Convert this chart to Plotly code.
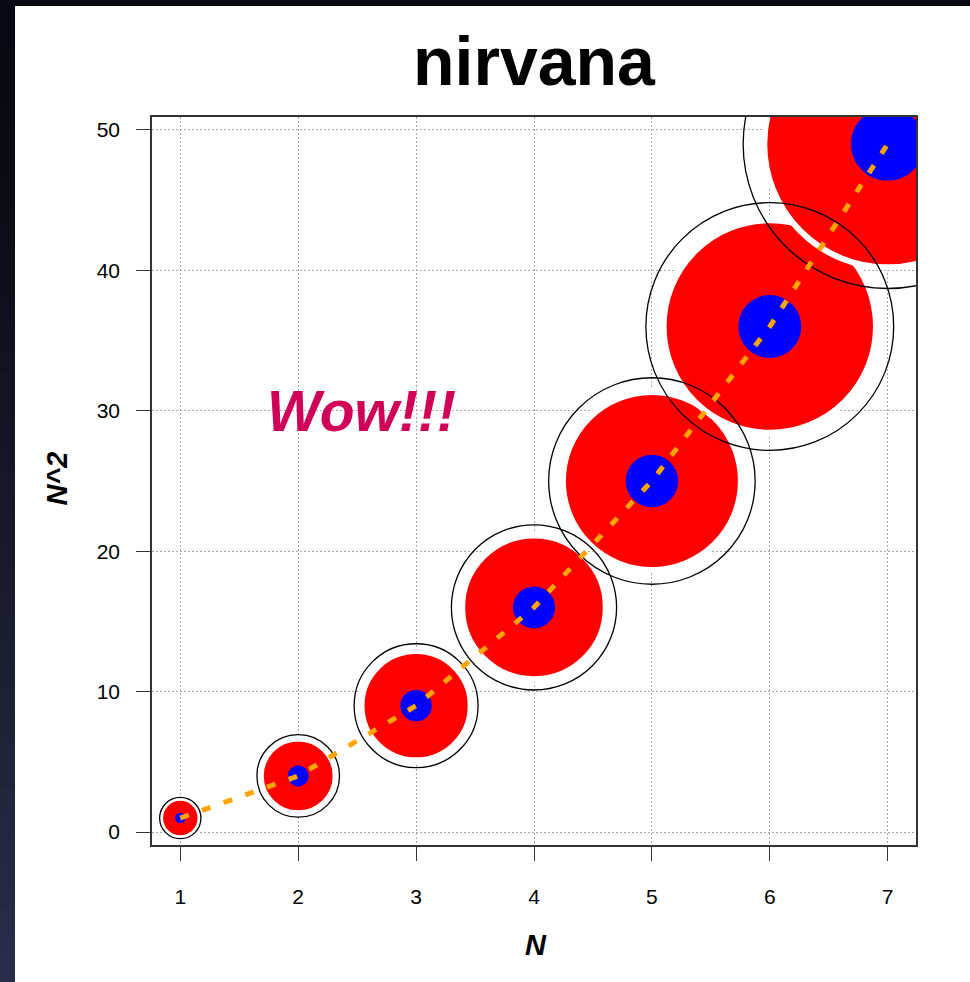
import plotly.graph_objects as go

# ---- data ----
N = [1, 2, 3, 4, 5, 6, 7]
N_SQ = [1, 4, 9, 16, 25, 36, 49]
X_TICKS = [1, 2, 3, 4, 5, 6, 7]
Y_TICKS = [0, 10, 20, 30, 40, 50]
TITLE = "nirvana"
X_LABEL = "N"
Y_LABEL = "N^2"
NOTE_TEXT = "Wow!!!"
NOTE_X = 2.54
NOTE_Y = 30

# ---- layout geometry (pixels) ----
W, H = 970, 982
L, R, T, B = 152, 54, 117, 137
PW, PH = W - L - R, H - T - B

def px2paper_x(px):
    return (px - L) / PW

def px2paper_y(py):
    return (H - B - py) / PH

FONT = "Liberation Sans, Arial, Helvetica, sans-serif"

fig = go.Figure()

# red discs with a thin white halo
HALO = 6
fig.add_trace(go.Scatter(
    x=N, y=N_SQ, mode="markers",
    marker=dict(size=[34.4 * n + HALO for n in N], color="#FF0000", opacity=1,
                line=dict(width=HALO, color="white")),
    hoverinfo="skip", showlegend=False))
# black rings
fig.add_trace(go.Scatter(
    x=N, y=N_SQ, mode="markers",
    marker=dict(size=[41.3 * n for n in N], symbol="circle-open", color="#000000",
                opacity=1, line=dict(width=1.3)),
    hoverinfo="skip", showlegend=False))
# blue centres
fig.add_trace(go.Scatter(
    x=N, y=N_SQ, mode="markers",
    marker=dict(size=[10.5 * n for n in N], color="#0000FF", opacity=1, line=dict(width=0)),
    hoverinfo="skip", showlegend=False))
# orange dashed line
fig.add_trace(go.Scatter(
    x=N, y=N_SQ, mode="lines",
    line=dict(color="#FFA500", width=5, dash="9px,14px"),
    hoverinfo="skip", showlegend=False))

shapes = [
    # white page
    dict(type="rect", xref="paper", yref="paper",
         x0=px2paper_x(15), x1=px2paper_x(1000), y0=px2paper_y(1000), y1=px2paper_y(6),
         fillcolor="white", line=dict(width=0), layer="below"),
]

# dark left strip: smooth vertical gradient
def lerp(c0, c1, t):
    return "#%02x%02x%02x" % tuple(round(a + (b - a) * t) for a, b in zip(c0, c1))

c_top, c_bot = (7, 9, 16), (40, 46, 74)
nb = 40
for i in range(nb):
    y_top = 6 + (H - 6) * i / nb
    y_bot = 6 + (H - 6) * (i + 1) / nb
    shapes.append(dict(type="rect", xref="paper", yref="paper",
                       x0=px2paper_x(-10), x1=px2paper_x(15),
                       y0=px2paper_y(y_bot + 1), y1=px2paper_y(y_top),
                       fillcolor=lerp(c_top, c_bot, (i / (nb - 1)) ** 1.3),
                       line=dict(width=0), layer="below"))

annotations = [
    dict(text="<b>" + TITLE + "</b>", xref="paper", yref="paper",
         x=px2paper_x(534), y=px2paper_y(61.4), xanchor="center", yanchor="middle",
         showarrow=False, font=dict(family=FONT, size=68, color="black")),
    dict(text="<b><i>" + X_LABEL + "</i></b>", xref="paper", yref="paper",
         x=px2paper_x(536), y=px2paper_y(945), xanchor="center", yanchor="middle",
         showarrow=False, font=dict(family=FONT, size=29, color="black")),
    dict(text="<b><i>" + Y_LABEL + "</i></b>", xref="paper", yref="paper",
         x=px2paper_x(57.3), y=px2paper_y(478.3), xanchor="center", yanchor="middle",
         textangle=-90, showarrow=False, font=dict(family=FONT, size=29, color="black")),
    dict(text="<b><i>" + NOTE_TEXT + "</i></b>", xref="x", yref="y",
         x=NOTE_X, y=NOTE_Y, xanchor="center", yanchor="middle",
         showarrow=False, font=dict(family=FONT, size=57, color="#D00058")),
]

axis_common = dict(
    showline=True, mirror=True, linecolor="#333333", linewidth=1.5,
    ticks="outside", ticklen=14, tickwidth=1.3, tickcolor="#333333",
    showgrid=True, gridcolor="#A8A8A8", gridwidth=1, griddash="1.5px,2.5px",
    zeroline=False, tickfont=dict(family=FONT, size=21, color="black"),
    fixedrange=True,
)

fig.update_layout(
    width=W, height=H,
    margin=dict(l=L, r=R, t=T, b=B),
    paper_bgcolor="#080a12", plot_bgcolor="rgba(0,0,0,0)",
    shapes=shapes, annotations=annotations, showlegend=False,
    xaxis=dict(range=[0.76, 7.24], tickvals=X_TICKS, ticklabelstandoff=18, **axis_common),
    yaxis=dict(range=[-0.92, 50.92], tickvals=Y_TICKS, ticklabelstandoff=12, **axis_common),
)

fig.write_html(
    "out.html",
    config={"displayModeBar": False},
    post_script="document.body.style.margin='0';document.body.style.background='#080a12';",
)
